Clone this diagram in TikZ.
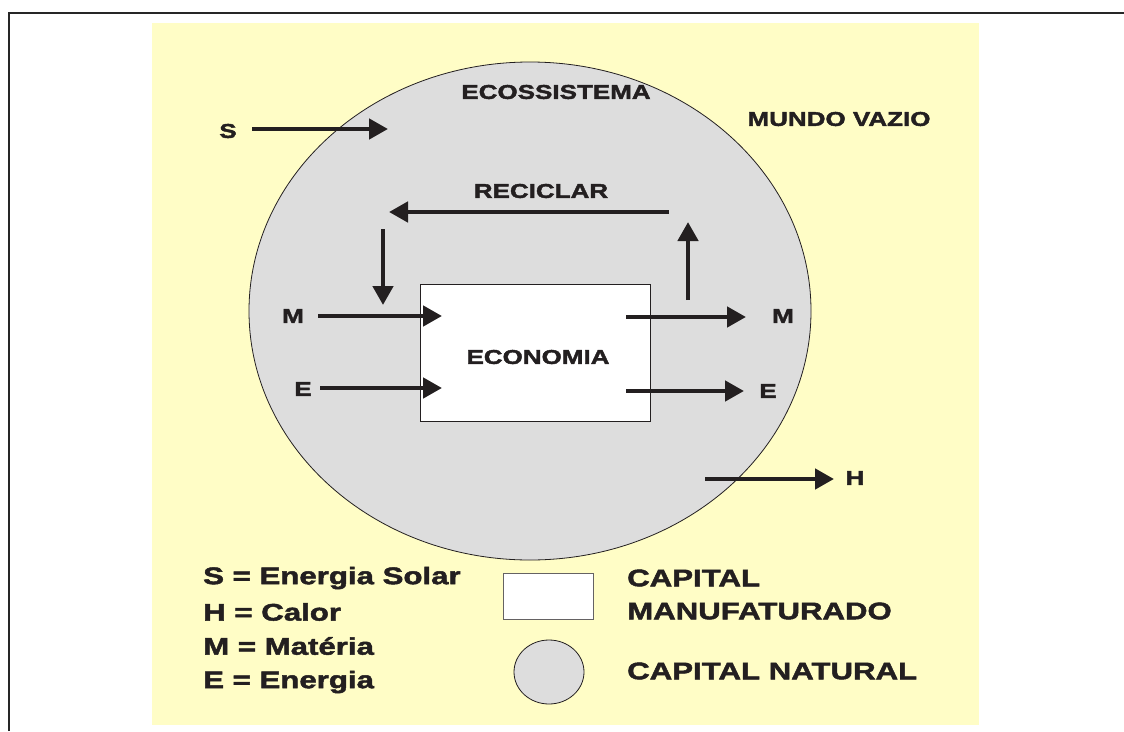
\documentclass[tikz,border=0pt]{standalone}
\usepackage{fontspec}
\newfontfamily\blackfont{Liberation Sans}[FakeStretch=1.3,FakeBold=2]
\usetikzlibrary{arrows.meta,positioning}
\definecolor{bgyellow}{HTML}{FFFDC6}
\definecolor{ecogray}{HTML}{DDDDDD}
\definecolor{ink}{HTML}{231F20}

\begin{document}
\begin{tikzpicture}[x=1pt,y=-1pt,
    flow/.style={ink,line width=4.5pt,-{Triangle[length=19pt,width=20pt]}},
    lbl/.style={text=ink,font=\blackfont\bfseries\fontsize{20}{22}\selectfont,inner sep=0pt},
    legtxt/.style={text=ink,font=\blackfont\bfseries\fontsize{24}{26}\selectfont,inner sep=0pt,anchor=west}]
    \useasboundingbox (0,0) rectangle (1124,731);
    % frame and background
    \draw[line width=2.5pt,black!85] (9,731) -- (9,13) -- (1124,13);
    \fill[bgyellow] (152,23) rectangle (979,725);
    % capital natural and capital manufaturado
    \draw[fill=ecogray,draw=ink,line width=0.8pt] (530,311) ellipse [x radius=281,y radius=249];
    \node (econ) [draw=ink,fill=white,line width=0.8pt,minimum width=230pt,minimum height=137pt,inner sep=0pt] at (535,352.5) {};
    % labels
    \begin{scope}[every node/.style={lbl}]
      \node (eco) at (556,92) {ECOSSISTEMA};
      \node (vazio) at (839,119) {MUNDO VAZIO};
      \node (recic) at (541,191) {RECICLAR};
      \node (econlbl) at (538,357) {ECONOMIA};
      \node (s) at (228,131) {S};
      \node (min) at (293,316) {M};
      \node (ein) at (303,389) {E};
      \node (mout) at (783,316) {M};
      \node (eout) at (768,391) {E};
      \node (h) at (855,478) {H};
    \end{scope}
    % arrow ends
    \coordinate (s1) at (252,129);   \coordinate (s2) at (388,129);
    \coordinate (r1) at (669,212);   \coordinate (r2) at (389,212);
    \coordinate (d1) at (383,229);   \coordinate (d2) at (383,305);
    \coordinate (u1) at (688,300);   \coordinate (u2) at (688,222);
    \coordinate (mi1) at (318,316);  \coordinate (mi2) at (442,316);
    \coordinate (ei1) at (320,388);  \coordinate (ei2) at (442,388);
    \coordinate (mo1) at (626,317);  \coordinate (mo2) at (746,317);
    \coordinate (eo1) at (626,391);  \coordinate (eo2) at (744,391);
    \coordinate (h1) at (705,479);   \coordinate (h2) at (834,479);
    \begin{scope}[every path/.style={flow}]
      \draw (s1) -- (s2);
      \draw (r1) -- (r2);
      \draw (d1) -- (d2);
      \draw (u1) -- (u2);
      \draw (mi1) -- (mi2);
      \draw (ei1) -- (ei2);
      \draw (mo1) -- (mo2);
      \draw (eo1) -- (eo2);
      \draw (h1) -- (h2);
    \end{scope}
    % legend
    \begin{scope}[every node/.style={legtxt}]
      \node (legs) at (203,578) {S = Energia Solar};
      \node (legh) at (203,612) {H = Calor};
      \node (legm) at (203,646) {M = Mat\'eria};
      \node (lege) at (203,682) {E = Energia};
      \node (capm1) at (627,578) {CAPITAL};
      \node (capm2) at (627,611) {MANUFATURADO};
      \node (capn) at (627,671) {CAPITAL NATURAL};
    \end{scope}
    \node (legrect) [draw=ink!70,fill=white,line width=0.8pt,minimum width=90pt,minimum height=46pt,inner sep=0pt] at (548,596) {};
    \draw[fill=ecogray,draw=ink,line width=0.8pt] (549,672) ellipse [x radius=35,y radius=32];
  \end{tikzpicture}
\end{document}
